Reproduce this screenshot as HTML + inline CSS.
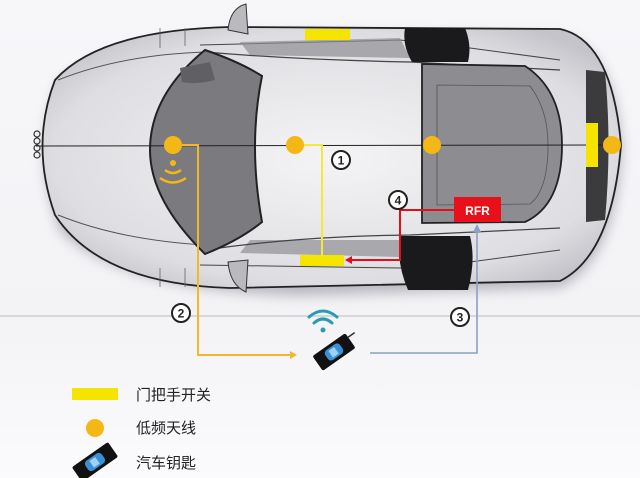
<!DOCTYPE html>
<html><head><meta charset="utf-8"><style>
html,body{margin:0;padding:0;background:#fff;}
svg{display:block;}
text{font-family:"Liberation Sans","Noto Sans CJK SC",sans-serif;}
</style></head><body>
<svg width="640" height="478" viewBox="0 0 640 478" xmlns="http://www.w3.org/2000/svg">
<defs>
<linearGradient id="bg" x1="0" y1="0" x2="0" y2="1"><stop offset="0" stop-color="#f7f7fa"/><stop offset="0.65" stop-color="#f3f3f6"/><stop offset="1" stop-color="#fbfbfd"/></linearGradient>
<radialGradient id="body" cx="0.5" cy="0.5" r="0.6"><stop offset="0" stop-color="#f4f4f6"/><stop offset="0.8" stop-color="#dedee2"/><stop offset="1" stop-color="#c4c4ca"/></radialGradient>
<filter id="sh" x="-10%" y="-10%" width="120%" height="130%"><feGaussianBlur stdDeviation="6"/></filter>
</defs>
<rect width="640" height="478" fill="url(#bg)"/>
<line x1="0" y1="316" x2="640" y2="316" fill="none" stroke="#c8c8cc" stroke-width="1.2"/>
<path d="M60 75 Q120 30 300 28 L560 30 Q615 40 622 145 Q615 255 560 282 L300 290 Q120 285 60 225 Q30 145 60 75Z" fill="#b8b8c0" filter="url(#sh)" transform="translate(0,6)"/>
<path d="M55 80 Q100 30 230 27 L560 29 Q612 40 621 145 Q612 255 560 281 L230 288 Q100 284 55 215 Q30 145 55 80Z" fill="url(#body)" stroke="#222" stroke-width="1.8"/>
<path d="M58 80 Q120 55 205 52" fill="none" stroke="#555" stroke-width="1"/>
<path d="M58 215 Q120 240 205 245" fill="none" stroke="#555" stroke-width="1"/>
<path d="M160 28 L160 48 M185 28 L185 46 M160 268 L160 287 M185 268 L185 287" stroke="#666" stroke-width="0.8"/>
<path d="M200 45 L400 40 L470 48 L560 60" fill="none" stroke="#444" stroke-width="1"/>
<path d="M205 52 Q300 60 410 62 L560 70" fill="none" stroke="#444" stroke-width="1.2"/>
<path d="M240 42 L400 38 L410 58 L250 55Z" fill="#8e8e94" opacity="0.7"/>
<path d="M240 253 L400 257 L410 240 L250 240Z" fill="#8e8e94" opacity="0.7"/>
<path d="M205 250 Q300 236 410 235 L560 228" fill="none" stroke="#444" stroke-width="1.2"/>
<path d="M200 265 L400 268 L470 262 L560 250" fill="none" stroke="#444" stroke-width="1"/>
<path d="M405 28 L465 28 Q472 45 468 62 L412 62 Q402 45 405 28Z" fill="#1a1a1c"/>
<path d="M400 236 L470 236 Q476 260 468 290 L408 290 Q396 262 400 236Z" fill="#1a1a1c"/>
<path d="M205 50 Q240 62 262 76 Q248 145 262 222 Q240 240 205 254 Q150 200 150 150 Q150 95 205 50Z" fill="#7b7a7f" stroke="#222" stroke-width="2"/>
<path d="M180 68 L210 62 L215 80 Q195 85 182 82Z" fill="#606064"/>
<path d="M422 64 L525 66 Q562 90 562 145 Q562 205 525 222 L422 223Z" fill="#8d8c91" stroke="#222" stroke-width="1.8"/>
<path d="M437 85 L530 86 Q548 110 548 145 Q548 190 530 204 L437 205Z" fill="none" stroke="#555" stroke-width="0.8"/>
<path d="M586 70 L605 72 Q612 145 605 220 L586 222Z" fill="#3b3b3e"/>
<path d="M228 30 Q230 8 246 4 L248 34Z" fill="#b9b9be" stroke="#333"/>
<path d="M228 262 Q230 285 246 292 L248 260Z" fill="#b9b9be" stroke="#333"/>
<line x1="36" y1="146" x2="612" y2="145" stroke="#222" stroke-width="1"/>
<g fill="none" stroke="#333" stroke-width="1.2"><circle cx="37" cy="134" r="3"/><circle cx="37" cy="141" r="3"/><circle cx="37" cy="148" r="3"/><circle cx="37" cy="155" r="3"/></g>
<rect x="305" y="29" width="45" height="11" fill="#f5e400"/>
<rect x="300" y="255" width="44" height="11" fill="#f5e400"/>
<rect x="586" y="123" width="12" height="44" fill="#f5e400"/>
<polyline points="182,145 198,145 198,355 290,355" fill="none" stroke="#f0b82a" stroke-width="2"/>
<path d="M290 351 L297 355 L290 359Z" fill="#f0b82a"/>
<polyline points="302,145 322,145 322,256" fill="none" stroke="#f2ea3a" stroke-width="2"/>
<polyline points="455,210 400,210 400,260 352,260" fill="none" stroke="#e0101a" stroke-width="2"/>
<path d="M352 256 L345 260 L352 264Z" fill="#e0101a"/>
<polyline points="370,353 477,353 477,232" fill="none" stroke="#8aa0c8" stroke-width="1.6"/>
<path d="M473 232 L477 224 L481 232Z" fill="#8aa0c8"/>
<rect x="454" y="197" width="47" height="25" fill="#e8101a"/>
<text x="477.5" y="215" font-size="12" font-weight="bold" fill="#fff" text-anchor="middle">RFR</text>
<g fill="#f4b816"><circle cx="173" cy="145" r="9"/><circle cx="295" cy="145" r="9"/><circle cx="432" cy="145" r="9"/><circle cx="612" cy="145" r="9"/></g>
<circle cx="173" cy="163" r="3" fill="#f4b816"/>
<path d="M165 170 Q173 176 181 170" fill="none" stroke="#f4b816" stroke-width="2.5"/>
<path d="M160 178 Q173 187 186 178" fill="none" stroke="#f4b816" stroke-width="2.5"/>
<g fill="#fff" stroke="#222" stroke-width="2"><circle cx="341" cy="160" r="9"/><circle cx="398" cy="200" r="9"/><circle cx="181" cy="313" r="9"/><circle cx="460" cy="317" r="9"/></g>
<g font-size="12" font-weight="bold" fill="#222" text-anchor="middle"><text x="341" y="164.5">1</text><text x="398" y="204.5">4</text><text x="181" y="317.5">2</text><text x="460" y="321.5">3</text></g>
<g fill="none" stroke="#2a9bb0" stroke-width="3" stroke-linecap="round">
<path d="M309 317 Q323 305 337 317"/><path d="M314 323 Q323 315 332 323"/></g>
<circle cx="323" cy="330" r="2.5" fill="#2a9bb0"/>
<g transform="translate(334,352) rotate(-35)">
<rect x="-20" y="-9" width="40" height="18" rx="2" fill="#111"/>
<rect x="-9" y="-6" width="18" height="12" rx="4" fill="#3b8fd6"/>
<rect x="-4" y="-4" width="7" height="8" fill="#9fd0f5"/>
<line x1="20" y1="-4" x2="28" y2="-4" stroke="#333" stroke-width="1.5"/>
</g>
<rect x="72" y="388" width="46" height="12" fill="#f5e400"/>
<circle cx="95" cy="428" r="9" fill="#f4b816"/>
<g transform="translate(95,462) rotate(-35)">
<rect x="-22" y="-9" width="44" height="18" rx="2" fill="#111"/>
<rect x="-10" y="-6" width="20" height="12" rx="4" fill="#3b8fd6"/>
<rect x="-4" y="-4" width="7" height="8" fill="#9fd0f5"/>
</g>
<g font-size="15" fill="#222"><text x="136" y="400">门把手开关</text><text x="136" y="433">低频天线</text><text x="136" y="468">汽车钥匙</text></g>
</svg>
</body></html>
